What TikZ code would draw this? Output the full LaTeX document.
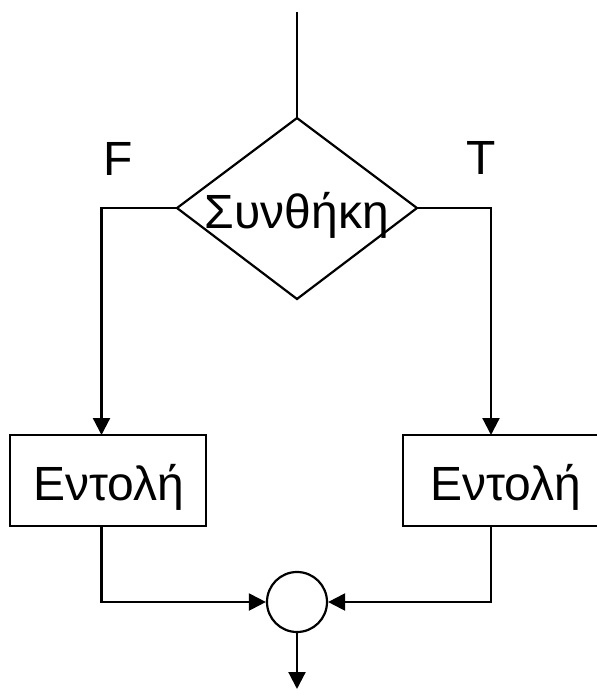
\documentclass[tikz,border=0pt]{standalone}
\usepackage{fontspec}
\setmainfont{Liberation Sans}
\usetikzlibrary{arrows.meta}
\begin{document}
\begin{tikzpicture}[x=1pt,y=-1pt,line width=2.2pt,
  tip/.style={-{Triangle[length=17pt,width=17pt]}},
  lbl/.style={font=\fontsize{48}{52}\selectfont,inner sep=0pt,anchor=base},
  boxnode/.style={draw,rectangle,inner sep=0pt}]
\useasboundingbox (0,0) rectangle (597,691);
% decision diamond
\coordinate (start) at (297,12);
\coordinate (dtop) at (297,118);
\coordinate (dleft) at (177,208);
\coordinate (dright) at (417,208);
\coordinate (dbot) at (297,299);
\draw (dtop) -- (dright) -- (dbot) -- (dleft) -- cycle;
\node[lbl] (cond) at (297,228) {Συνθήκη};
\draw (start) -- (dtop);
% labels
\node[lbl] (flab) at (118,175) {F};
\node[lbl] (tlab) at (481,174) {T};
% boxes
\node[boxnode,minimum width=196pt,minimum height=91pt] (lbox) at (108,480.5) {};
\node[boxnode,minimum width=207pt,minimum height=91pt] (rbox) at (506.5,480.5) {};
\node[lbl] (ltext) at (109,500) {Εντολή};
\node[lbl] (rtext) at (506,500) {Εντολή};
\coordinate (lin) at (101.5,435);
\coordinate (rin) at (491,435);
\coordinate (lout) at (101.5,526);
\coordinate (rout) at (491,526);
% join circle
\node[draw,circle,minimum size=60pt,inner sep=0pt] (join) at (297,602) {};
\coordinate (end) at (297,689);
% connectors
\draw[tip] (dleft) -| (lin);
\draw[tip] (dright) -| (rin);
\draw[tip] (lout) |- (join.west);
\draw[tip] (rout) |- (join.east);
\draw[tip] (join.south) -- (end);
\end{tikzpicture}
\end{document}
